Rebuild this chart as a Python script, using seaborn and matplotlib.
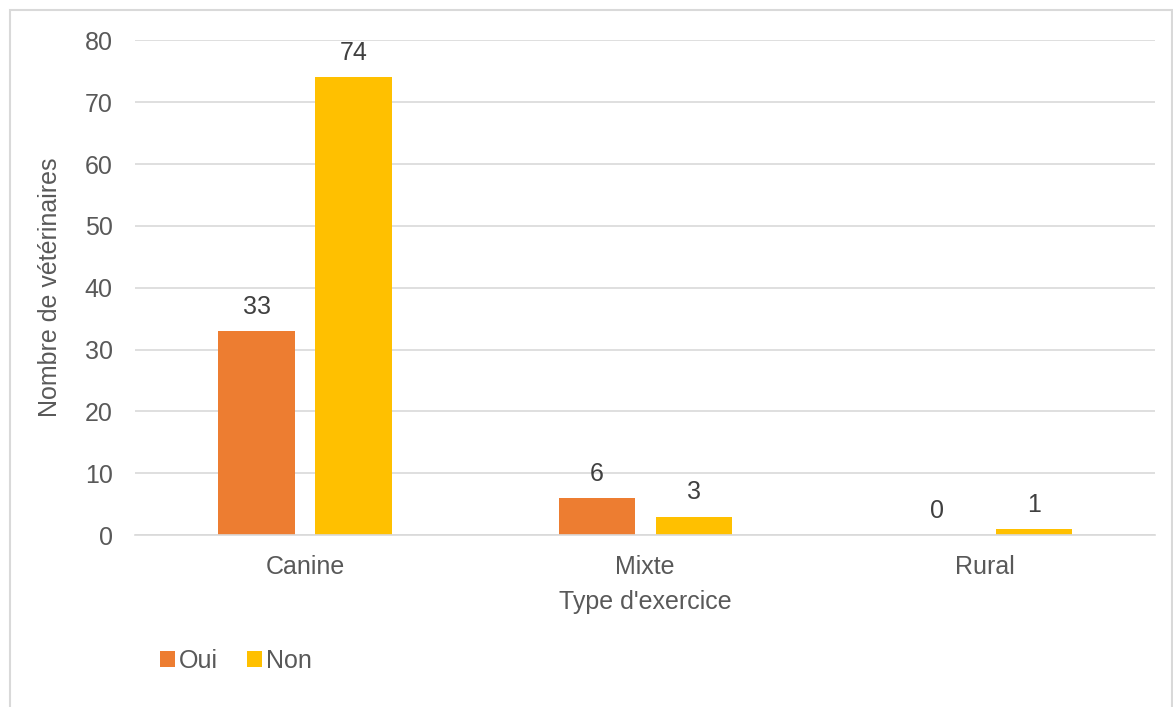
import matplotlib

matplotlib.use("Agg")

import matplotlib.pyplot as plt
import pandas as pd
import seaborn as sns
from matplotlib.patches import Rectangle

categories = ["Canine", "Mixte", "Rural"]
series_names = ["Oui", "Non"]
oui_values = [33, 6, 0]
non_values = [74, 3, 1]
y_ticks = [0, 10, 20, 30, 40, 50, 60, 70, 80]

text_color = "#595959"
grid_color = "#D9D9D9"
palette = {"Oui": "#ED7D31", "Non": "#FFC000"}

df = pd.DataFrame(
    {
        "type": categories * 2,
        "reponse": [series_names[0]] * len(categories) + [series_names[1]] * len(categories),
        "nombre": oui_values + non_values,
    }
)

sns.set_theme(style="white")
plt.rcParams["font.family"] = ["Liberation Sans", "DejaVu Sans"]

fs = 18

fig = plt.figure(figsize=(11.73, 7.07), dpi=100)
ax = fig.add_axes([0.115, 0.243, 0.87, 0.70])

sns.barplot(
    data=df,
    x="type",
    y="nombre",
    hue="reponse",
    hue_order=series_names,
    palette=palette,
    saturation=1,
    width=0.57,
    gap=0.215,
    linewidth=0,
    ax=ax,
)

for container in ax.containers:
    ax.bar_label(container, padding=9, fontsize=fs, color="#404040")

ax.set_ylim(0, 80)
ax.set_xlim(-0.5, 2.5)
ax.set_yticks(y_ticks)
ax.yaxis.grid(True, color=grid_color, linewidth=1.2)
ax.set_axisbelow(True)
for side in ["top", "right", "left"]:
    ax.spines[side].set_visible(False)
ax.spines["bottom"].set_color(grid_color)
ax.spines["bottom"].set_linewidth(1.2)
ax.tick_params(axis="y", labelsize=fs, colors=text_color, length=0, pad=16)
ax.tick_params(axis="x", labelsize=fs, colors=text_color, length=0, pad=14)
ax.set_xlabel("Type d'exercice", fontsize=fs, color=text_color, labelpad=8)
ax.set_ylabel("Nombre de vétérinaires", fontsize=fs, color=text_color, labelpad=16)

ax.legend(
    loc="lower left",
    bbox_to_anchor=(0.117, 0.016),
    bbox_transform=fig.transFigure,
    ncol=2,
    frameon=False,
    fontsize=fs,
    handlelength=0.6,
    handleheight=0.6,
    handletextpad=0.15,
    columnspacing=1.2,
    labelcolor=text_color,
)

fig.patches.append(
    Rectangle(
        (10 / 1173, -0.01),
        1162 / 1173,
        1 - 10 / 707 + 0.01,
        transform=fig.transFigure,
        fill=False,
        edgecolor=grid_color,
        linewidth=1.5,
    )
)

fig.savefig("out.png", dpi=100)
